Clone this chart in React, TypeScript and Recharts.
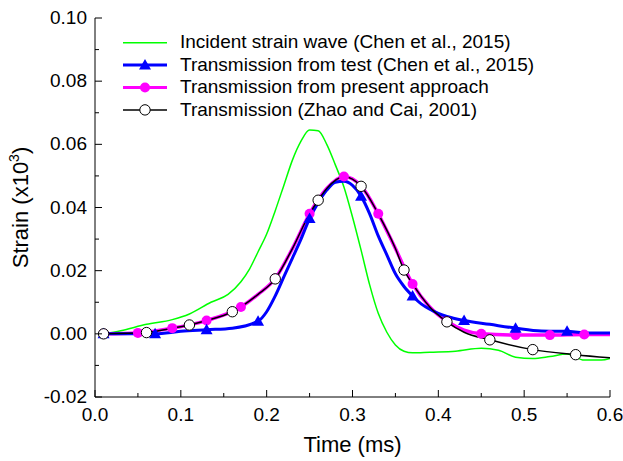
import { LineChart, Line, XAxis, YAxis } from "recharts";

const FONT = "Arial, 'Liberation Sans', sans-serif";

// incident strain wave (Chen et al., 2015)
const incT = [0.01, 0.03, 0.06, 0.09, 0.11, 0.135, 0.155, 0.17, 0.18, 0.19, 0.2, 0.21, 0.22, 0.23, 0.24, 0.25, 0.26, 0.27, 0.28, 0.29, 0.3, 0.31, 0.32, 0.33, 0.34, 0.35, 0.36, 0.37, 0.39, 0.42, 0.45, 0.47, 0.49, 0.51, 0.53, 0.55, 0.57, 0.59, 0.6];
const incV = [0, 0.001, 0.003, 0.0045, 0.0063, 0.01, 0.0125, 0.0165, 0.0205, 0.026, 0.0316, 0.039, 0.047, 0.055, 0.061, 0.0645, 0.0643, 0.06, 0.0535, 0.0465, 0.037, 0.0265, 0.0155, 0.0065, 0.0005, -0.0035, -0.0055, -0.006, -0.0058, -0.0055, -0.0046, -0.0052, -0.0074, -0.0078, -0.0072, -0.0064, -0.0083, -0.0083, -0.0078];

// transmission from test (Chen et al., 2015)
const testT = [0.01, 0.04, 0.07, 0.1, 0.13, 0.16, 0.19, 0.2, 0.21, 0.22, 0.23, 0.24, 0.25, 0.26, 0.27, 0.28, 0.29, 0.3, 0.31, 0.32, 0.33, 0.34, 0.35, 0.36, 0.37, 0.38, 0.39, 0.4, 0.41, 0.43, 0.46, 0.49, 0.52, 0.55, 0.57, 0.6];
const testV = [0, 0, 0, 0.0008, 0.0013, 0.0018, 0.004, 0.007, 0.012, 0.018, 0.024, 0.03, 0.0365, 0.0415, 0.0455, 0.048, 0.0483, 0.047, 0.0436, 0.038, 0.031, 0.025, 0.019, 0.015, 0.012, 0.0095, 0.0078, 0.0065, 0.0055, 0.0042, 0.003, 0.0018, 0.0009, 0.0008, 0.0003, 0.0003];
const testMarks = [0.01, 0.07, 0.13, 0.19, 0.25, 0.31, 0.37, 0.43, 0.49, 0.55];

// transmission from present approach
const presT = [0.01, 0.05, 0.09, 0.13, 0.17, 0.19, 0.21, 0.23, 0.25, 0.27, 0.29, 0.31, 0.33, 0.35, 0.37, 0.39, 0.41, 0.43, 0.45, 0.49, 0.53, 0.57, 0.6];
const presV = [0, 0.0003, 0.0018, 0.0042, 0.0085, 0.0125, 0.0175, 0.027, 0.038, 0.046, 0.0498, 0.0468, 0.038, 0.027, 0.0158, 0.0085, 0.004, 0.0012, 0, -0.0004, -0.0004, -0.0002, -0.0002];
const presMarks = [0.01, 0.05, 0.09, 0.13, 0.17, 0.21, 0.25, 0.29, 0.33, 0.37, 0.41, 0.45, 0.49, 0.53, 0.57];

// transmission (Zhao and Cai, 2001)
const zhaoT = [0.01, 0.06, 0.09, 0.11, 0.13, 0.16, 0.19, 0.21, 0.23, 0.25, 0.26, 0.27, 0.29, 0.31, 0.33, 0.35, 0.36, 0.37, 0.39, 0.41, 0.43, 0.46, 0.51, 0.56, 0.6];
const zhaoV = [0, 0.0004, 0.0018, 0.0028, 0.0042, 0.007, 0.0125, 0.0174, 0.027, 0.038, 0.0423, 0.046, 0.0497, 0.0467, 0.038, 0.027, 0.0202, 0.0158, 0.0085, 0.0038, 0.0005, -0.0019, -0.005, -0.0066, -0.0076];
const zhaoMarks = [0.01, 0.06, 0.11, 0.16, 0.21, 0.26, 0.31, 0.36, 0.41, 0.46, 0.51, 0.56];

const xTicks = [0, 0.05, 0.1, 0.15, 0.2, 0.25, 0.3, 0.35, 0.4, 0.45, 0.5, 0.55, 0.6];
const yTicks = [-0.02, -0.01, 0, 0.01, 0.02, 0.03, 0.04, 0.05, 0.06, 0.07, 0.08, 0.09, 0.1];

const rows = (t: number[], v: number[]) => t.map((x, i) => ({ t: x, v: v[i] }));
const has = (list: number[], t: number) => list.some((m) => Math.abs(m - t) < 1e-6);
const isMajor = (v: number, step: number) => Math.abs(v / step - Math.round(v / step)) < 1e-6;

const Tri = ({ cx, cy }: any) => <path d={`M${cx},${cy - 6} L${cx + 6},${cy + 4.5} L${cx - 6},${cy + 4.5} Z`} fill="#0000ff" />;
const Dot = ({ cx, cy }: any) => <circle cx={cx} cy={cy} r={5} fill="#ff00ff" />;
const Ring = ({ cx, cy }: any) => <circle cx={cx} cy={cy} r={5.2} fill="#fff" stroke="#000" strokeWidth={1} />;

const marker = (list: number[], Shape: any) => (p: any) =>
  has(list, p.payload.t) ? <Shape key={`m${p.index}`} cx={p.cx} cy={p.cy} /> : <g key={`m${p.index}`} />;

const BottomTick = ({ x, y, payload }: any) => {
  const major = isMajor(payload.value, 0.1);
  return (
    <g>
      <line x1={x} x2={x} y1={y} y2={y - (major ? 7 : 4)} stroke="#000" />
      {major && (
        <text x={x} y={y + 24} textAnchor="middle" fontSize={19} fontFamily={FONT} fill="#000">
          {payload.value.toFixed(1)}
        </text>
      )}
    </g>
  );
};
const TopTick = ({ x, y, payload }: any) => (
  <line x1={x} x2={x} y1={y} y2={y + (isMajor(payload.value, 0.1) ? 7 : 4)} stroke="#000" />
);
const LeftTick = ({ x, y, payload }: any) => {
  const major = isMajor(payload.value, 0.02);
  return (
    <g>
      <line x1={x} x2={x + (major ? 7 : 4)} y1={y} y2={y} stroke="#000" />
      {major && (
        <text x={x - 8} y={y + 6} textAnchor="end" fontSize={19} fontFamily={FONT} fill="#000">
          {payload.value.toFixed(2)}
        </text>
      )}
    </g>
  );
};
const RightTick = ({ x, y, payload }: any) => (
  <line x1={x} x2={x - (isMajor(payload.value, 0.02) ? 7 : 4)} y1={y} y2={y} stroke="#000" />
);

const YLabel = ({ viewBox }: any) => {
  const cx = viewBox.x + 28;
  const cy = viewBox.y + viewBox.height / 2;
  return (
    <text transform={`translate(${cx},${cy}) rotate(-90)`} textAnchor="middle" fontSize={22} fontFamily={FONT} fill="#000">
      Strain (x10<tspan dy={-9} fontSize={14}>3</tspan>
      <tspan dy={9}>)</tspan>
    </text>
  );
};
const XLabel = ({ viewBox }: any) => (
  <text x={viewBox.x + viewBox.width / 2} y={viewBox.y + 55} textAnchor="middle" fontSize={22} fontFamily={FONT} fill="#000">
    Time (ms)
  </text>
);

const legendItems = [
  { name: "Incident strain wave (Chen et al., 2015)", color: "#00ff00", w: 1.5, Shape: null },
  { name: "Transmission from test (Chen et al., 2015)", color: "#0000ff", w: 3, Shape: Tri },
  { name: "Transmission from present approach", color: "#ff00ff", w: 3, Shape: Dot },
  { name: "Transmission (Zhao and Cai, 2001)", color: "#000", w: 1.5, Shape: Ring },
];

function LegendBox() {
  return (
    <svg width={450} height={100} style={{ position: "absolute", left: 110, top: 30 }}>
      {legendItems.map((it, i) => {
        const y = 12.7 + i * 22.4;
        const S = it.Shape as any;
        return (
          <g key={it.name}>
            <line x1={13} x2={57} y1={y} y2={y} stroke={it.color} strokeWidth={it.w} />
            {S && <S cx={35} cy={y} />}
            <text x={70} y={y + 5.7} fontSize={19} fontFamily={FONT} fill="#000">
              {it.name}
            </text>
          </g>
        );
      })}
    </svg>
  );
}

export default function App() {
  return (
    <div style={{ position: "absolute", left: 0, top: 0, width: 623, height: 461, background: "#fff" }}>
      <LineChart width={623} height={461} margin={{ top: 18, right: 13, bottom: 0, left: 0 }}>
        <XAxis dataKey="t" type="number" domain={[0, 0.6]} ticks={xTicks} interval={0} height={64} tickSize={0} tickMargin={0} tick={<BottomTick />} stroke="#000" label={<XLabel />} allowDataOverflow />
        <XAxis xAxisId="top" orientation="top" dataKey="t" type="number" domain={[0, 0.6]} ticks={xTicks} interval={0} height={0} tickSize={0} tickMargin={0} tick={<TopTick />} stroke="#000" allowDataOverflow />
        <YAxis type="number" domain={[-0.02, 0.1]} ticks={yTicks} interval={0} width={95} tickSize={0} tickMargin={0} tick={<LeftTick />} stroke="#000" label={<YLabel />} allowDataOverflow />
        <YAxis yAxisId="right" orientation="right" type="number" domain={[-0.02, 0.1]} ticks={yTicks} interval={0} width={0} tickSize={0} tickMargin={0} tick={<RightTick />} stroke="#000" allowDataOverflow />
        <Line data={rows(incT, incV)} dataKey="v" type="monotone" stroke="#00ff00" strokeWidth={1.5} dot={false} isAnimationActive={false} />
        <Line data={rows(presT, presV)} dataKey="v" type="monotone" stroke="#ff00ff" strokeWidth={3.5} dot={marker(presMarks, Dot)} isAnimationActive={false} />
        <Line data={rows(testT, testV)} dataKey="v" type="monotone" stroke="#0000ff" strokeWidth={3} dot={marker(testMarks, Tri)} isAnimationActive={false} />
        <Line data={rows(zhaoT, zhaoV)} dataKey="v" type="monotone" stroke="#000" strokeWidth={1.5} dot={marker(zhaoMarks, Ring)} isAnimationActive={false} />
      </LineChart>
      <LegendBox />
    </div>
  );
}
